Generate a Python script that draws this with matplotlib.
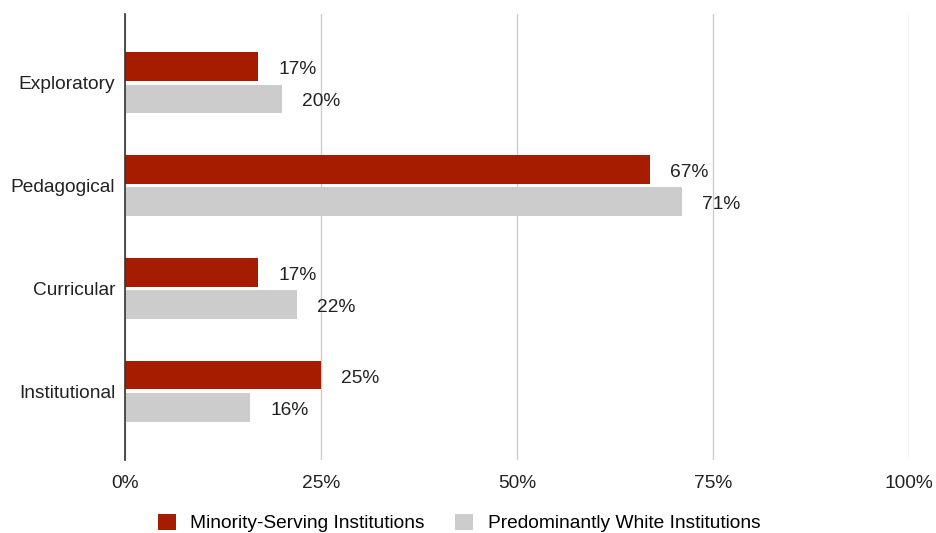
import matplotlib
matplotlib.use("Agg")
import matplotlib.pyplot as plt
import numpy as np

categories = ["Exploratory", "Pedagogical", "Curricular", "Institutional"]
msi = [17, 67, 17, 25]
pwi = [20, 71, 22, 16]
series_names = ["Minority-Serving Institutions", "Predominantly White Institutions"]
xticks = [0, 25, 50, 75, 100]
xtick_labels = ["0%", "25%", "50%", "75%", "100%"]

plt.rcParams['font.family'] = ['Liberation Sans', 'DejaVu Sans']

fig = plt.figure(figsize=(9.36, 5.33), dpi=100)
ax = fig.add_axes([125/936, 1-460/533, (909-125)/936, (460-14)/533])

y = np.arange(len(categories))
h = 0.28
off = 0.157
red = "#A61C00"
gray = "#CCCCCC"
fs = 13.8
b1 = ax.barh(y - off, msi, height=h, color=red, label=series_names[0], zorder=3)
b2 = ax.barh(y + off, pwi, height=h, color=gray, label=series_names[1], zorder=3)

for bars, vals in ((b1, msi), (b2, pwi)):
    for rect, v in zip(bars, vals):
        ax.annotate(f"{v}%", (v, rect.get_y() + rect.get_height()/2),
                    xytext=(20, -3), textcoords="offset pixels",
                    ha="left", va="center", fontsize=fs, color="#222222")

ax.set_xlim(0, 100)
ax.set_ylim(3.67, -0.67)
ax.set_xticks(xticks)
ax.set_xticklabels(xtick_labels)
ax.set_yticks(y)
ax.set_yticklabels(categories)
ax.tick_params(axis="both", length=0, labelsize=fs, colors="#222222")
ax.tick_params(axis="x", pad=10.5)
ax.tick_params(axis="y", pad=7)
ax.xaxis.grid(True, color="#CCCCCC", linewidth=1, zorder=0)
ax.set_axisbelow(True)
for s in ["top", "right", "bottom"]:
    ax.spines[s].set_visible(False)
ax.spines["left"].set_color("#333333")
ax.spines["left"].set_linewidth(1.2)
ax.spines["left"].set_zorder(4)

fig.legend(handles=[b1, b2], loc="center", bbox_to_anchor=(459/936, 1-523/533),
           ncol=2, frameon=False, fontsize=fs, handlelength=0.95, handleheight=0.95,
           columnspacing=1.6, handletextpad=0.75)

fig.savefig("out.png", dpi=100)
